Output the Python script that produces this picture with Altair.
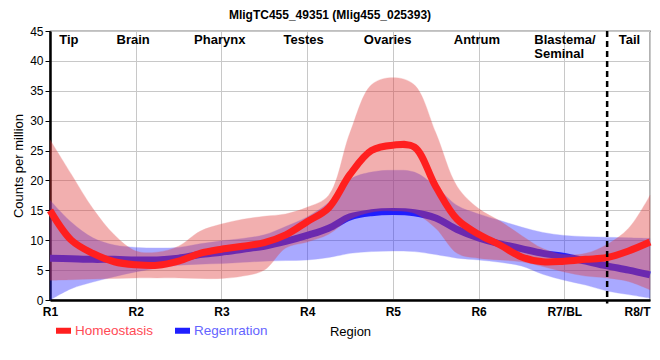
import altair as alt
import pandas as pd

# ---- data ----
x_pos = [1.0, 1.25, 1.5, 1.75, 2.0, 2.25, 2.5, 2.75, 3.0, 3.25, 3.5, 3.75, 4.0, 4.25,
         4.5, 4.75, 5.0, 5.25, 5.5, 5.75, 6.0, 6.25, 6.5, 6.75, 7.0, 7.25, 7.5, 7.75, 8.0]

homeo_mid = [15.0, 10.0, 7.8, 6.4, 5.9, 5.8, 6.5, 7.8, 8.5, 9.0, 9.6, 10.9, 13.1, 15.4,
             21.0, 25.0, 25.9, 25.6, 19.0, 13.5, 11.0, 9.2, 7.2, 6.4, 6.5, 6.8, 7.1, 8.2, 9.7]
homeo_hi = [26.8, 21.0, 15.3, 10.9, 8.2, 8.0, 9.0, 11.5, 12.7, 13.5, 14.0, 14.4, 15.5, 17.5,
            28.0, 36.0, 37.2, 36.0, 28.0, 19.0, 15.3, 13.2, 10.8, 8.6, 7.6, 7.8, 9.3, 12.0, 17.5]
homeo_lo = [3.3, 3.4, 3.5, 3.6, 3.7, 3.7, 3.7, 3.6, 3.6, 4.0, 5.0, 8.7, 9.7, 11.0,
            13.5, 14.7, 14.9, 14.5, 12.0, 7.8, 7.0, 6.7, 6.4, 5.6, 4.7, 4.0, 3.7, 3.1, 1.7]

regen_mid = [7.0, 6.9, 6.8, 6.8, 6.7, 6.7, 7.0, 7.6, 8.0, 8.5, 9.0, 9.8, 10.8, 12.0,
             13.9, 14.6, 14.8, 14.6, 13.7, 11.8, 10.4, 9.4, 8.6, 7.8, 7.3, 6.5, 5.7, 5.0, 4.2]
regen_hi = [16.7, 13.0, 10.4, 9.2, 8.8, 8.7, 8.8, 9.4, 9.9, 10.3, 10.9, 12.3, 13.9, 16.3,
            20.2, 21.4, 21.7, 21.4, 19.0, 15.8, 14.4, 13.3, 12.2, 11.3, 10.8, 10.6, 10.5, 10.4, 10.3]
regen_lo = [0.0, 1.9, 3.0, 3.9, 4.7, 5.3, 5.8, 6.0, 6.1, 6.3, 6.5, 6.6, 6.7, 7.1,
            7.8, 8.1, 8.2, 8.1, 7.6, 7.0, 6.7, 6.3, 5.7, 4.3, 3.3, 2.5, 1.5, 0.9, 0.3]

series_names = ["Homeostasis", "Regenration"]
x_ticks = [1, 2, 3, 4, 5, 6, 7, 8]
x_labels = ["R1", "R2", "R3", "R4", "R5", "R6", "R7/BL", "R8/T"]
y_ticks = [0, 5, 10, 15, 20, 25, 30, 35, 40, 45]

region_names = ["Tip", "Brain", "Pharynx", "Testes", "Ovaries", "Antrum", "Tail"]
region_x = [1.22, 1.97, 2.98, 3.96, 4.94, 5.98, 7.76]
region_left_names = ["Blastema/\nSeminal"]
region_left_x = [6.65]
region_label_y = 42.8
divider_x = [7.5]

FONT = "Liberation Sans"
INTERP = "catmull-rom"

homeo = pd.DataFrame({"x": x_pos, "mid": homeo_mid, "hi": homeo_hi, "lo": homeo_lo,
                      "series": series_names[0]})
regen = pd.DataFrame({"x": x_pos, "mid": regen_mid, "hi": regen_hi, "lo": regen_lo,
                      "series": series_names[1]})

xs = alt.Scale(domain=[1, 8], nice=False, zero=False)
ys = alt.Scale(domain=[0, 45], nice=False)

label_expr = "[" + ",".join("'%s'" % s for s in x_labels) + "][datum.value-1]"

x_axis = alt.Axis(values=x_ticks, labelExpr=label_expr, tickSize=0,
                  labelPadding=6, labelFontWeight="bold", labelFontSize=12,
                  labelFont=FONT, labelColor="black", titleFont=FONT,
                  titleFontSize=13, titleFontWeight="normal", titleColor="black",
                  titlePadding=8, domainColor="black", domainWidth=2.5,
                  gridColor="#c8c8c8", labelFlush=False,
                  labelAlign={"expr": "datum.value == 8 ? 'right' : 'center'"})
y_axis = alt.Axis(values=y_ticks, tickSize=5, tickColor="black", labelOverlap=False,
                  labelFont=FONT, labelFontSize=12, labelColor="black",
                  titleFont=FONT, titleFontSize=13, titleFontWeight="normal",
                  titleColor="black", domainColor="black", domainWidth=2.5,
                  gridColor="#c8c8c8")


def X(field):
    return alt.X(field, scale=xs, title="Region", axis=x_axis)


def Y(field):
    return alt.Y(field, scale=ys, title="Counts per million", axis=y_axis)


color_scale = alt.Scale(domain=series_names, range=["#ff1f1f", "#1f1fff"])


def band(df, col):
    return alt.Chart(df).mark_area(interpolate=INTERP, opacity=0.4,
                                   stroke=col, strokeWidth=1, strokeOpacity=0.35).encode(
        x=X("x:Q"), y=Y("lo:Q"), y2="hi:Q", color=alt.value(col))


legend = alt.Legend(orient="none", legendX=3, legendY=289, direction="horizontal",
                    title=None, symbolType="stroke", symbolSize=225,
                    symbolStrokeWidth=6, labelFont=FONT, labelFontSize=13.5,
                    labelColor={"expr": "datum.label == 'Homeostasis' ? '#ff4a55' : '#6464ff'"},
                    columnPadding=9, labelOffset=1, padding=0)


def line(df):
    return alt.Chart(df).mark_line(interpolate=INTERP, strokeWidth=7).encode(
        x=X("x:Q"), y=Y("mid:Q"),
        color=alt.Color("series:N", scale=color_scale, legend=legend))


labels_df = pd.DataFrame({"x": region_x, "name": region_names, "y": region_label_y})
labels_left_df = pd.DataFrame({"x": region_left_x, "name": region_left_names, "y": region_label_y})

region_text = alt.Chart(labels_df).mark_text(
    font=FONT, fontSize=13, fontWeight="bold", align="center", baseline="alphabetic",
    color="black").encode(x=X("x:Q"), y=Y("y:Q"), text="name:N")
region_text_left = alt.Chart(labels_left_df).mark_text(
    font=FONT, fontSize=13, fontWeight="bold", align="left", baseline="alphabetic",
    color="black", lineBreak="\n", lineHeight=14).encode(
    x=X("x:Q"), y=Y("y:Q"), text="name:N")

div_df = pd.DataFrame({"x": divider_x, "top": 45.0, "bottom": -0.6})
divider = alt.Chart(div_df).mark_rule(color="black", strokeWidth=2.5,
                                      strokeDash=[6, 4]).encode(
    x=X("x:Q"), y=Y("top:Q"), y2="bottom:Q")

chart = alt.layer(
    band(regen, "#2a2aff"),
    line(regen),
    band(homeo, "#e03a3a"),
    line(homeo),
    divider,
    region_text,
    region_text_left,
).properties(
    width=600, height=269,
    title=alt.TitleParams("MligTC455_49351 (Mlig455_025393)", font=FONT, fontSize=12,
                          fontWeight="bold", color="black", offset=8, dx=-20, dy=5),
    autosize=alt.AutoSizeParams(type="none"),
    padding={"left": 42, "top": 23, "right": 2, "bottom": 48},
).configure_view(stroke="black", strokeWidth=1.2)

chart.save("out.html", embed_options={"renderer": "svg", "actions": False})
